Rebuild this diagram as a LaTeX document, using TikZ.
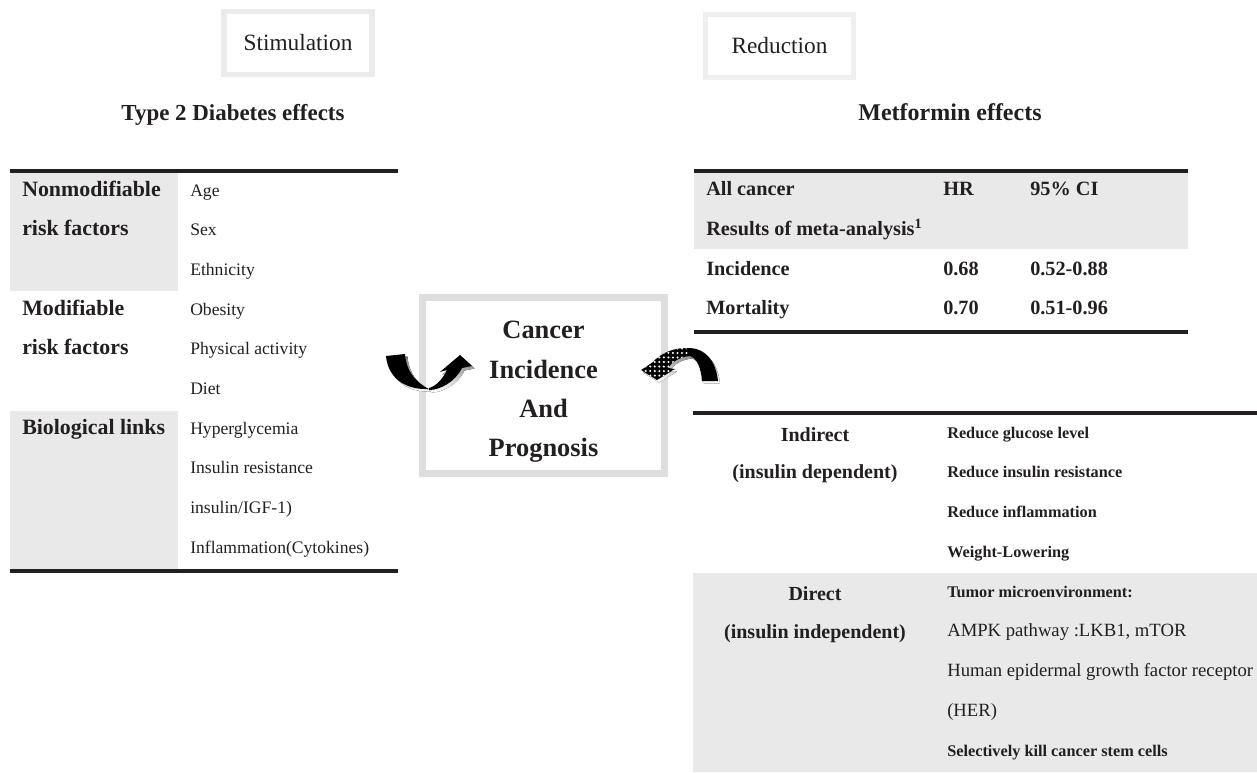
\documentclass[tikz,border=0pt]{standalone}
\usepackage{fontspec}
\setmainfont{Liberation Serif}
\usepackage{xcolor}
\usepackage{tikz}
\usetikzlibrary{patterns}
\definecolor{cellgray}{HTML}{E9E9E9}
\definecolor{stimgray}{HTML}{EBEBEB}
\definecolor{redgray}{HTML}{EEEFF1}
\definecolor{boxgray}{HTML}{DEDEDE}
\definecolor{ink}{HTML}{231F20}
\definecolor{shade}{HTML}{C8C8C8}
\pgfdeclarepatternformonly{bigdots}{\pgfqpoint{-1pt}{-1pt}}{\pgfqpoint{4pt}{4pt}}{\pgfqpoint{3.4pt}{3.4pt}}%
  {\pgfpathcircle{\pgfqpoint{1.5pt}{1.5pt}}{0.85pt}\pgfusepath{fill}}

\begin{document}
\begin{tikzpicture}[x=0.75pt,y=-0.75pt,text=ink,
    rule/.style={line width=2.3pt,color=ink},
    lcell/.style={anchor=mid west,inner sep=0pt,font=\fontsize{13.2}{15}\selectfont},
    llabel/.style={anchor=mid west,inner sep=0pt,font=\fontsize{16.4}{19}\selectfont\bfseries},
    rtop/.style={anchor=mid west,inner sep=0pt,font=\fontsize{15.2}{18}\selectfont\bfseries},
    rlabel/.style={inner sep=0pt,font=\fontsize{15}{18}\selectfont\bfseries},
    rcell/.style={anchor=mid west,inner sep=0pt,font=\fontsize{14}{16}\selectfont},
    heading/.style={inner sep=0pt,font=\fontsize{17.2}{20}\selectfont\bfseries},
    tagbox/.style={line width=4.2pt,inner sep=0pt,font=\fontsize{17.5}{20}\selectfont,
      minimum width=111pt,minimum height=47pt}]
  \useasboundingbox (0,0) rectangle (1257,772);

  % boxes on top
  \node[tagbox,draw=stimgray] (stim) at (298,43) {Stimulation};
  \node[tagbox,draw=redgray] (reduc) at (779.5,46) {Reduction};
  \node[heading] (t2dhead) at (233,115) {Type 2 Diabetes effects};
  \node[heading,font=\fontsize{18}{21}\selectfont\bfseries] (methead) at (950,112) {Metformin effects};

  % left table
  \fill[cellgray] (10,172) rectangle (178,291);
  \fill[cellgray] (10,411) rectangle (178,570);
  \draw[rule] (10,171) -- (398,171);
  \draw[rule] (10,571) -- (398,571);
  \node[llabel] (nonmod) at (22,193) {Nonmodifiable};
  \node[llabel] (nonmod2) at (22,232.5) {risk factors};
  \node[llabel] (mod) at (22,312) {Modifiable};
  \node[llabel] (mod2) at (22,351.5) {risk factors};
  \node[llabel] (biol) at (22,431) {Biological links};
  \foreach \txt [count=\i from 0] in {Age,Sex,Ethnicity,Obesity,Physical activity,Diet,
      Hyperglycemia,Insulin resistance,insulin/IGF-1),Inflammation(Cytokines)}
    \node[lcell] (t2d-\i) at (190,193+39.7*\i) {\txt};

  % center box
  \node[draw=boxgray,line width=5.2pt,minimum width=181.5pt,minimum height=132pt] (cbox) at (543.5,385.5) {};
  \node[align=center,inner sep=0pt,font=\fontsize{19.8}{29.5}\selectfont\bfseries] (ctext) at (543.5,392)
    {Cancer\\Incidence\\And\\Prognosis};

  % left arrow
  \begin{scope}[shift={(2.5,2.5)}]
    \fill[shade] (386,356) -- (405,354) .. controls (406,370) and (415,382) .. (429,389)
      .. controls (405,390) and (388,378) .. (386,356) -- cycle;
    \fill[shade] (429,390) .. controls (440,390) and (455,382) .. (462,368) -- (472,366) -- (460,355)
      -- (440,372) -- (447,370) .. controls (442,380) and (436,386) .. (429,388) -- cycle;
  \end{scope}
  \fill[black] (386,356) -- (405,354) .. controls (406,370) and (415,382) .. (429,389)
    .. controls (405,390) and (388,378) .. (386,356) -- cycle;
  \fill[black] (429,390) .. controls (440,390) and (455,382) .. (462,368) -- (472,366) -- (460,355)
    -- (440,372) -- (447,370) .. controls (442,380) and (436,386) .. (429,388) -- cycle;

  % right arrow
  \begin{scope}[shift={(2,2.5)}]
    \fill[shade] (686,348) .. controls (706,347) and (716,362) .. (718,381) -- (702,381)
      .. controls (701,368) and (697,358) .. (690,356) -- cycle;
    \fill[shade] (686,348) .. controls (672,348) and (660,354) .. (653,362) -- (641,370) -- (657,380)
      -- (675,369) -- (668,368) .. controls (673,361) and (680,357) .. (690,356) -- cycle;
  \end{scope}
  \fill[black] (686,348) .. controls (706,347) and (716,362) .. (718,381) -- (702,381)
    .. controls (701,368) and (697,358) .. (690,356) -- cycle;
  \fill[black] (686,348) .. controls (672,348) and (660,354) .. (653,362) -- (641,370) -- (657,380)
    -- (675,369) -- (668,368) .. controls (673,361) and (680,357) .. (690,356) -- cycle;
  \fill[pattern=bigdots,pattern color=white] (686,348) .. controls (672,348) and (660,354) .. (653,362)
    -- (641,370) -- (657,380) -- (675,369) -- (668,368) .. controls (673,361) and (680,357) .. (690,356) -- cycle;

  % right top table
  \fill[cellgray] (694,172) rectangle (1188,249);
  \draw[rule] (694,171) -- (1188,171);
  \draw[rule] (694,332) -- (1188,332);
  \node[rtop] (allc) at (706,192) {All cancer};
  \node[rtop] (hr) at (943,192) {HR};
  \node[rtop] (ci) at (1030,192) {95\% CI};
  \node[rtop] (meta) at (706,232) {Results of meta-analysis\textsuperscript{1}};
  \node[rtop] (inc) at (706,272) {Incidence};
  \node[rtop] (inchr) at (943,272) {0.68};
  \node[rtop] (incci) at (1030,272) {0.52-0.88};
  \node[rtop] (mort) at (706,311) {Mortality};
  \node[rtop] (morthr) at (943,311) {0.70};
  \node[rtop] (mortci) at (1030,311) {0.51-0.96};

  % right bottom table
  \fill[cellgray] (693,573) rectangle (1257,772);
  \draw[rule] (693,413) -- (1257,413);
  \node[rlabel] (indir) at (815,435) {Indirect};
  \node[rlabel] (indir2) at (815,474) {(insulin dependent)};
  \node[rlabel] (dir) at (815,594) {Direct};
  \node[rlabel] (dir2) at (815,634) {(insulin independent)};
  \foreach \txt [count=\i from 0] in {{\fontsize{12.2}{14}\selectfont\bfseries Reduce glucose level},
      {\fontsize{12.2}{14}\selectfont\bfseries Reduce insulin resistance},
      {\fontsize{12.2}{14}\selectfont\bfseries Reduce inflammation},
      {\fontsize{12.2}{14}\selectfont\bfseries Weight-Lowering},
      {\fontsize{12.2}{14}\selectfont\bfseries Tumor microenvironment:},
      {AMPK pathway :LKB1, mTOR},{Human epidermal growth factor receptor},{(HER)},
      {\fontsize{12.2}{14}\selectfont\bfseries Selectively kill cancer stem cells}}
    \node[rcell] (met-\i) at (947,435+39.75*\i) {\txt};
\end{tikzpicture}
\end{document}
